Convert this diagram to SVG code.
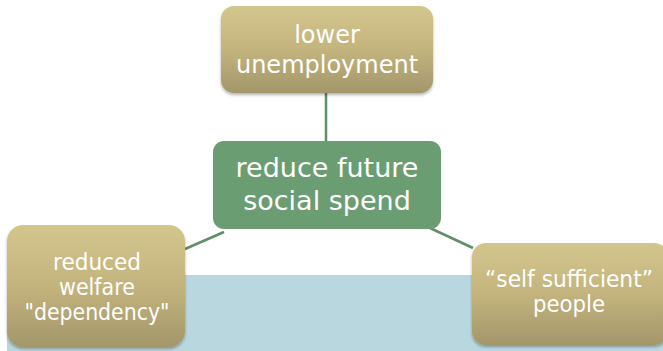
<svg xmlns="http://www.w3.org/2000/svg" width="663" height="351" viewBox="0 0 663 351">
<defs>
<linearGradient id="gold" x1="0" y1="0" x2="0" y2="1">
<stop offset="0" stop-color="#D3C68D"/>
<stop offset="0.5" stop-color="#C3B47D"/>
<stop offset="1" stop-color="#A3966A"/>
</linearGradient>
<filter id="sh" x="-10%" y="-10%" width="120%" height="130%">
<feGaussianBlur in="SourceAlpha" stdDeviation="1.5"/>
<feOffset dx="0" dy="2"/>
<feComponentTransfer><feFuncA type="linear" slope="0.3"/></feComponentTransfer>
<feMerge><feMergeNode/><feMergeNode in="SourceGraphic"/></feMerge>
</filter>
</defs>
<style>
.gold{fill:url(#gold);filter:url(#sh);}
.green{fill:#6B9D72;}
.t{font-family:"DejaVu Sans",sans-serif;fill:#FFFFFF;text-anchor:middle;}
.conn line{stroke:#5E8F66;stroke-width:2.5;}
</style>
<rect x="7" y="275" width="656" height="76" fill="#B9D7DF"/>
<g class="conn">
<line x1="326" y1="93" x2="326" y2="141"/>
<line x1="185" y1="249" x2="224" y2="232"/>
<line x1="430" y1="228" x2="473" y2="248"/>
</g>
<g id="node-top">
<rect class="gold" x="221" y="6" width="212" height="87" rx="13"/>
<text class="t" x="327" y="43" font-size="24">lower</text>
<text class="t" x="327" y="73" font-size="24">unemployment</text>
</g>
<g id="node-center">
<rect class="green" x="213" y="141" width="228" height="88" rx="11"/>
<text class="t" x="327" y="177" font-size="27">reduce future</text>
<text class="t" x="327" y="210" font-size="27">social spend</text>
</g>
<g id="node-left">
<rect class="gold" x="7" y="225" width="178" height="122" rx="16"/>
<text class="t" x="97" y="270" font-size="23" textLength="88" lengthAdjust="spacingAndGlyphs">reduced</text>
<text class="t" x="97" y="295" font-size="23" textLength="76" lengthAdjust="spacingAndGlyphs">welfare</text>
<text class="t" x="97" y="320" font-size="23" textLength="145" lengthAdjust="spacingAndGlyphs">"dependency"</text>
</g>
<g id="node-right">
<rect class="gold" x="472" y="243" width="196" height="102" rx="14"/>
<text class="t" x="569" y="287" font-size="23" textLength="168" lengthAdjust="spacingAndGlyphs">“self sufficient”</text>
<text class="t" x="569" y="312" font-size="23" textLength="72" lengthAdjust="spacingAndGlyphs">people</text>
</g>
</svg>
